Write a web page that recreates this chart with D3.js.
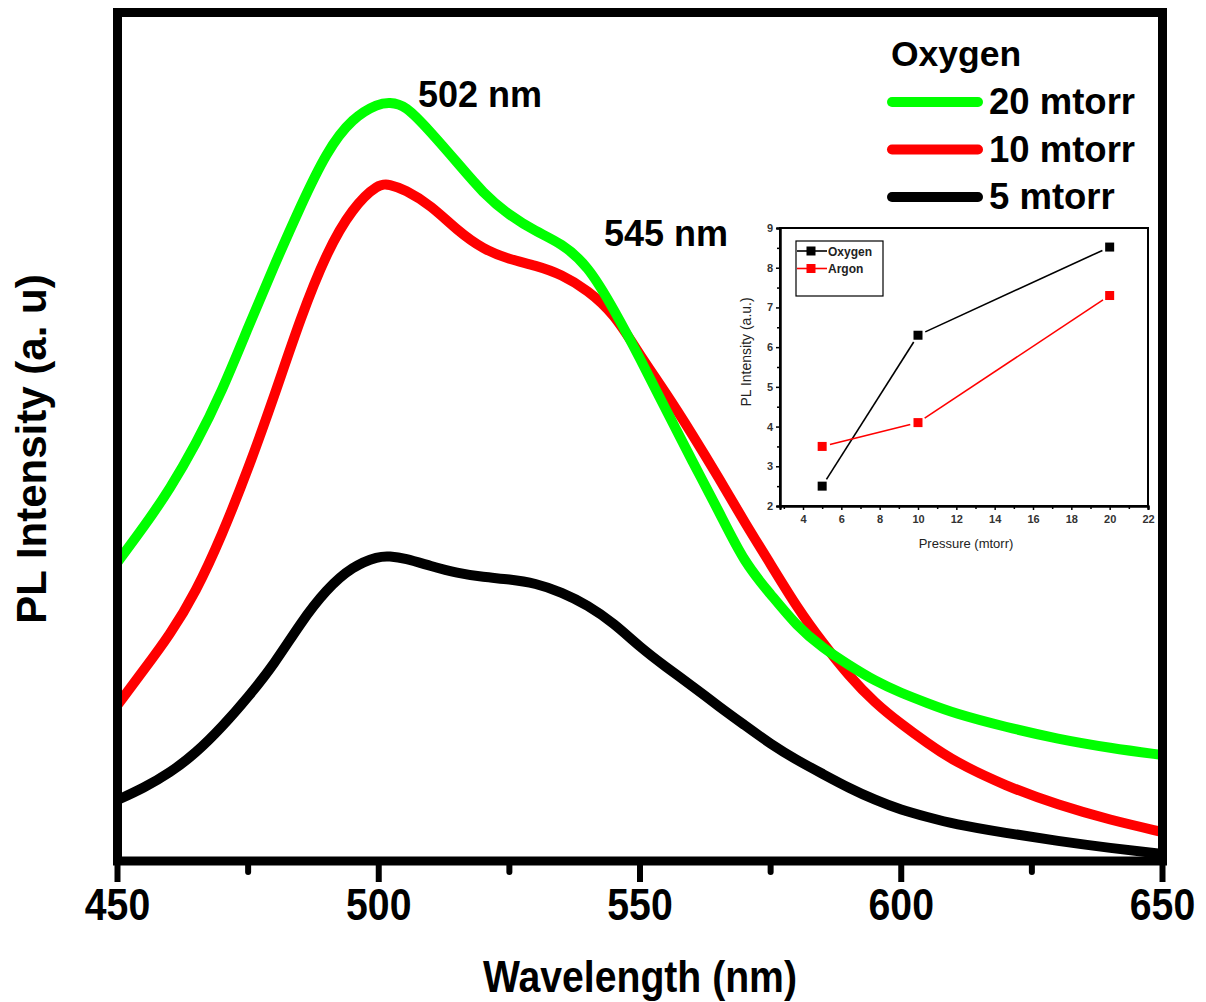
<!DOCTYPE html>
<html>
<head>
<meta charset="utf-8">
<script src="https://cdn.jsdelivr.net/npm/d3@7"></script>
<style>
  body { margin: 0; background: #fff; }
  svg { display: block; font-family: "Liberation Sans", Arial, sans-serif; }
</style>
</head>
<body>
<div id="chart"></div>
<script>
// PL spectra, intensity in arbitrary units
const wavelength = [450, 455, 460, 465, 470, 475, 480, 485, 490, 495, 500, 502, 505, 510, 515, 520, 525, 530, 535, 540, 545, 550, 555, 560, 565, 570, 575, 580, 585, 590, 595, 600, 605, 610, 620, 630, 640, 650];
const pl20 = [299, 334, 372, 417, 470, 534, 596, 655, 710, 744, 758, 759, 757, 729, 699, 668, 646, 630, 618, 596, 552, 503, 451, 400, 351, 298, 267, 235, 213, 196, 180, 168, 158, 148, 134, 122, 113, 106];
const pl10 = [156, 191, 226, 269, 326, 392, 465, 543, 609, 654, 678, 677, 672, 656, 631, 612, 602, 596, 587, 571, 548, 506, 468, 427, 384, 339, 297, 254, 218, 185, 158, 137, 118, 100, 75, 56, 41, 29];
const pl5 = [61, 73, 88, 108, 134, 164, 197, 238, 272, 295, 305, 305, 303, 295, 288, 284, 282, 278, 269, 256, 238, 214, 194, 175, 155, 136, 117, 101, 87, 73, 61, 51, 44, 37, 28, 20, 13, 7];

const seriesNames = ["20 mtorr", "10 mtorr", "5 mtorr"];
const seriesColors = ["#00ff00", "#ff0000", "#000000"];

const xTicks = [450, 500, 550, 600, 650];
const xMinor = [475, 525, 575, 625];
const peakLabels = ["502 nm", "545 nm"];

// inset: peak intensity vs pressure
const pressure = [5, 10, 20];
const oxygenPL = [2.5, 6.3, 8.52];
const argonPL = [3.5, 4.1, 7.3];
const insetNames = ["Oxygen", "Argon"];
const insetColors = ["#000000", "#ff0000"];

const width = 1206, height = 1002;
const plot = { left: 117.5, right: 1162.5, top: 12.5, bottom: 861 };
const narrow = "scale(0.89,1)";

const svg = d3.select("#chart").append("svg")
  .attr("width", width).attr("height", height);

const x = d3.scaleLinear().domain([450, 650]).range([plot.left, plot.right]);
const y = d3.scaleLinear().domain([0, 849]).range([plot.bottom, plot.top]);

svg.append("defs").append("clipPath").attr("id", "clip")
  .append("rect")
  .attr("x", plot.left).attr("y", plot.top)
  .attr("width", plot.right - plot.left).attr("height", plot.bottom - plot.top);

const line = d3.line()
  .x((d, i) => x(wavelength[i]))
  .y(d => y(d))
  .curve(d3.curveBasis);

const curves = svg.append("g").attr("clip-path", "url(#clip)");
[pl5, pl10, pl20].forEach((s, k) => {
  curves.append("path")
    .datum(s)
    .attr("fill", "none")
    .attr("stroke", seriesColors[2 - k])
    .attr("stroke-width", 10)
    .attr("stroke-linejoin", "round")
    .attr("d", line);
});

// frame
svg.append("rect")
  .attr("x", plot.left).attr("y", plot.top)
  .attr("width", plot.right - plot.left).attr("height", plot.bottom - plot.top)
  .attr("fill", "none").attr("stroke", "#000").attr("stroke-width", 9);

// x axis ticks
const axis = svg.append("g");
axis.selectAll(".major").data(xTicks).join("line")
  .attr("x1", d => x(d)).attr("x2", d => x(d))
  .attr("y1", plot.bottom).attr("y2", 882)
  .attr("stroke", "#000").attr("stroke-width", 6);
axis.selectAll(".minor").data(xMinor).join("line")
  .attr("x1", d => x(d)).attr("x2", d => x(d))
  .attr("y1", plot.bottom).attr("y2", 872)
  .attr("stroke", "#000").attr("stroke-width", 6).attr("stroke-linecap", "round");
axis.selectAll("text").data(xTicks).join("text")
  .attr("transform", d => `translate(${x(d)},920) ${narrow}`)
  .attr("text-anchor", "middle")
  .style("font-weight", "bold").style("font-size", "44px")
  .text(d => d);

svg.append("text")
  .attr("transform", `translate(640,992) ${narrow}`).attr("text-anchor", "middle")
  .style("font-weight", "bold").style("font-size", "44px")
  .text("Wavelength (nm)");

svg.append("text")
  .attr("transform", "translate(46,449) rotate(-90)")
  .attr("text-anchor", "middle")
  .style("font-weight", "bold").style("font-size", "42px")
  .text("PL Intensity (a. u)");

// peak annotations
svg.append("text").attr("x", 418).attr("y", 107)
  .style("font-weight", "bold").style("font-size", "36px").text(peakLabels[0]);
svg.append("text").attr("x", 604).attr("y", 246)
  .style("font-weight", "bold").style("font-size", "36px").text(peakLabels[1]);

// legend
const legend = svg.append("g");
legend.append("text").attr("x", 891).attr("y", 66)
  .style("font-weight", "bold").style("font-size", "35.5px").text("Oxygen");
seriesNames.forEach((name, i) => {
  const ly = 102 + i * 47.5;
  legend.append("line")
    .attr("x1", 892).attr("x2", 978).attr("y1", ly).attr("y2", ly)
    .attr("stroke", seriesColors[i]).attr("stroke-width", 10).attr("stroke-linecap", "round");
  legend.append("text").attr("x", 989).attr("y", ly + 12)
    .style("font-weight", "bold").style("font-size", "36.5px").text(name);
});

// ---- inset ----
const ins = { left: 780, right: 1148, top: 228, bottom: 506 };
const ix = d3.scaleLinear().domain([2.8, 22]).range([ins.left, ins.right]);
const iy = d3.scaleLinear().domain([2, 9]).range([ins.bottom, ins.top]);
const inset = svg.append("g");

inset.append("rect")
  .attr("x", ins.left).attr("y", ins.top)
  .attr("width", ins.right - ins.left).attr("height", ins.bottom - ins.top)
  .attr("fill", "#fff").attr("stroke", "#000").attr("stroke-width", 2);

inset.append("g").attr("transform", `translate(0,${ins.bottom})`)
  .call(d3.axisBottom(ix).tickValues(d3.range(4, 23, 2)).tickSize(4).tickPadding(5));
inset.append("g").attr("transform", `translate(0,${ins.bottom})`)
  .call(d3.axisBottom(ix).tickValues(d3.range(3, 22, 2)).tickSize(3).tickFormat(""));
inset.append("g").attr("transform", `translate(${ins.left},0)`)
  .call(d3.axisLeft(iy).ticks(8).tickSize(4).tickPadding(3));
inset.append("g").attr("transform", `translate(${ins.left},0)`)
  .call(d3.axisLeft(iy).tickValues(d3.range(2.5, 9, 1)).tickSize(3).tickFormat(""));
inset.selectAll(".domain").attr("stroke-width", 2);
inset.selectAll(".tick line").attr("stroke-width", 1.5);
inset.selectAll(".tick text")
  .style("font-family", "'Liberation Sans', Arial, sans-serif")
  .style("font-size", "11px").style("font-weight", "bold").attr("fill", "#333");

inset.append("text")
  .attr("transform", "translate(751,352) rotate(-90)")
  .attr("text-anchor", "middle").style("font-size", "14px").attr("fill", "#222")
  .text("PL Intensity (a.u.)");
inset.append("text")
  .attr("x", 966).attr("y", 548).attr("text-anchor", "middle")
  .style("font-size", "13px").attr("fill", "#222")
  .text("Pressure (mtorr)");

// segments with a gap around each marker
function gappedSegments(vals) {
  const pts = pressure.map((p, i) => [ix(p), iy(vals[i])]);
  const segs = [];
  for (let i = 0; i < pts.length - 1; i++) {
    const [x0, y0] = pts[i], [x1, y1] = pts[i + 1];
    const len = Math.hypot(x1 - x0, y1 - y0), g = 8;
    const ux = (x1 - x0) / len, uy = (y1 - y0) / len;
    segs.push([x0 + ux * g, y0 + uy * g, x1 - ux * g, y1 - uy * g]);
  }
  return segs;
}

[oxygenPL, argonPL].forEach((vals, k) => {
  inset.append("g").selectAll("line").data(gappedSegments(vals)).join("line")
    .attr("x1", d => d[0]).attr("y1", d => d[1])
    .attr("x2", d => d[2]).attr("y2", d => d[3])
    .attr("stroke", insetColors[k]).attr("stroke-width", 1.6);
  inset.append("g").selectAll("rect").data(pressure).join("rect")
    .attr("x", d => ix(d) - 4.5).attr("y", (d, i) => iy(vals[i]) - 4.5)
    .attr("width", 9).attr("height", 9)
    .attr("fill", insetColors[k]);
});

// inset legend
const il = inset.append("g");
il.append("rect")
  .attr("x", 796).attr("y", 241).attr("width", 87).attr("height", 55)
  .attr("fill", "#fff").attr("stroke", "#000").attr("stroke-width", 1.2);
insetNames.forEach((name, i) => {
  const ly = 251 + i * 17.5;
  il.append("line").attr("x1", 797).attr("x2", 827).attr("y1", ly).attr("y2", ly)
    .attr("stroke", insetColors[i]).attr("stroke-width", 1.6);
  il.append("rect").attr("x", 806.5).attr("y", ly - 4.5).attr("width", 9).attr("height", 9)
    .attr("fill", insetColors[i]);
  il.append("text").attr("x", 828).attr("y", ly + 4.5)
    .style("font-size", "12px").style("font-weight", "bold").attr("fill", "#222")
    .text(name);
});
</script>
</body>
</html>
